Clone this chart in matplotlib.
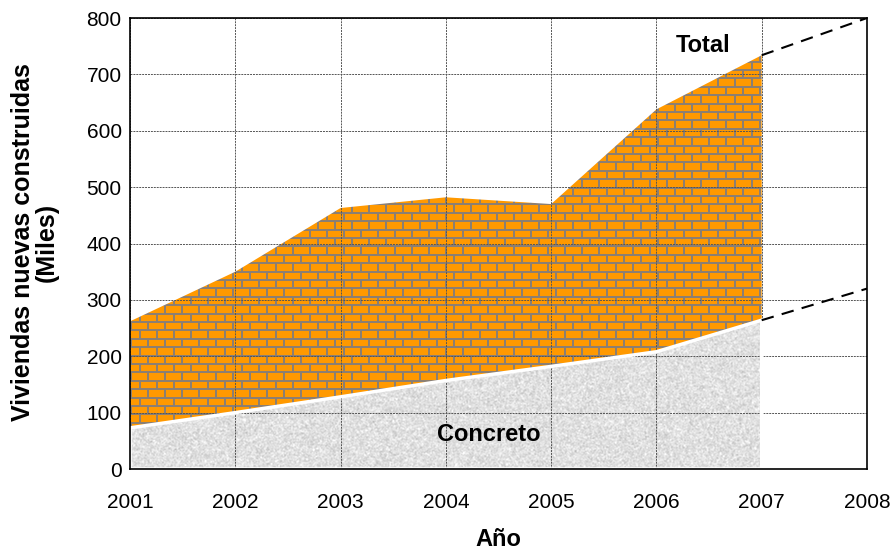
import numpy as np
import matplotlib.pyplot as plt

plt.rcParams['font.family'] = ['Liberation Sans', 'DejaVu Sans']

# Viviendas nuevas construidas (miles)
anios = [2001, 2002, 2003, 2004, 2005, 2006, 2007]
total = [262, 350, 463, 482, 470, 638, 734]
concreto = [73, 100, 128, 157, 182, 208, 264]

# Tendencia 2007-2008
anios_tend = [2007, 2008]
total_tend = [734, 800]
concreto_tend = [264, 320]

fig = plt.figure(figsize=(8.95, 5.51), dpi=100)
ax = fig.add_axes([0.1453, 0.1488, 0.8234, 0.8185])
ax.set_xlim(2001, 2008)
ax.set_ylim(0, 800)

# textura de ladrillo en pixeles
W, H = 737, 451
ladrillo = np.array([1.0, 0.6, 0.0])
mortero = np.array([0.55, 0.50, 0.45])
yy, xx = np.mgrid[0:H, 0:W]
fila = (yy // 8.4).astype(int)
desplaz = np.where(fila % 2 == 0, 0, 8)
junta = ((yy % 8.4) < 2) | (((xx + desplaz) % 17) < 2)
img_lad = np.where(junta[..., None], mortero, ladrillo)

# textura granito gris
rng = np.random.default_rng(3)
ruido = rng.normal(0, 1, (H, W))
k = np.ones(2) / 2
ruido = np.apply_along_axis(lambda r: np.convolve(r, k, mode='same'), 1, ruido)
ruido = np.apply_along_axis(lambda c: np.convolve(c, k, mode='same'), 0, ruido)
gris = np.clip(0.88 + 0.07 * ruido, 0.65, 1.0)
img_gris = np.dstack([gris, gris, gris])

ext = [2001, 2008, 0, 800]

poly_t = ax.fill_between(anios, 0, total, facecolor='none', edgecolor='none')
im1 = ax.imshow(img_lad, extent=ext, aspect='auto', origin='upper',
                interpolation='nearest', zorder=1)
im1.set_clip_path(poly_t.get_paths()[0], transform=ax.transData)

poly_c = ax.fill_between(anios, 0, concreto, facecolor='none', edgecolor='white',
                         lw=2.5, zorder=3)
im2 = ax.imshow(img_gris, extent=ext, aspect='auto', origin='upper',
                interpolation='bilinear', zorder=2)
im2.set_clip_path(poly_c.get_paths()[0], transform=ax.transData)

ax.plot(anios_tend, total_tend, color='black', lw=1.5, ls=(0, (6, 4)), zorder=4)
ax.plot(anios_tend, concreto_tend, color='black', lw=1.5, ls=(0, (6, 4)), zorder=4)

ax.set_xticks(range(2001, 2009))
ax.set_yticks(range(0, 801, 100))
ax.grid(True, color='#555555', lw=0.7, ls=(0, (2, 1)), zorder=5)
ax.set_axisbelow(False)
ax.tick_params(length=0, labelsize=15)
ax.tick_params(axis='x', pad=17)
ax.tick_params(axis='y', pad=6)
for s in ax.spines.values():
    s.set_linewidth(1.2)
    s.set_zorder(6)

ax.text(2006.44, 752, 'Total', fontsize=17, fontweight='bold', ha='center', va='center', zorder=7)
ax.text(2004.41, 62, 'Concreto', fontsize=17, fontweight='bold', ha='center', va='center', zorder=7)

ax.set_xlabel('Año', fontsize=17, fontweight='bold', labelpad=11.5)
ax.set_ylabel('Viviendas nuevas construidas\n(Miles)', fontsize=18, fontweight='bold',
              linespacing=1.0, va='center')
ax.yaxis.set_label_coords(-0.129, 0.503)

fig.savefig('out.png', dpi=100)
